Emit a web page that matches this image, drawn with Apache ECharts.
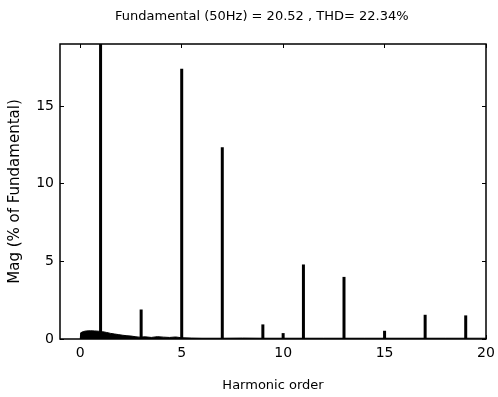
<!DOCTYPE html>
<html><head><meta charset="utf-8">
<script src="https://cdn.jsdelivr.net/npm/echarts@6/dist/echarts.min.js"></script>
<style>html,body{margin:0;padding:0;background:#fff}#c{width:498px;height:397px}</style>
</head><body><div id="c"></div>
<script>
const titleText = 'Fundamental (50Hz) = 20.52 , THD= 22.34%';
const xTicks = [0, 5, 10, 15, 20];
const yTicks = [0, 5, 10, 15];
// harmonic lines
const harmOrder = [1, 3, 5, 7, 9, 10, 11, 13, 15, 17, 19];
const harmMag   = [100, 1.9, 17.4, 12.35, 0.94, 0.38, 4.8, 4.0, 0.53, 1.56, 1.52];
// low-level background spectrum
const bgOrder = [0, 0.02, 0.15, 0.3, 0.5, 0.7, 0.9, 1.1, 1.3, 1.5, 1.7, 1.9, 2.1, 2.3, 2.5, 2.7, 2.9, 3.2, 3.5, 3.8, 4.1, 4.4, 4.7, 5.0, 5.5, 6.0, 7.0, 8.0, 9.0, 10.0, 12.0, 14.0, 16.0, 18.0, 20.0];
const bgMag   = [0, 0.4, 0.48, 0.52, 0.53, 0.52, 0.5, 0.47, 0.42, 0.36, 0.32, 0.28, 0.24, 0.21, 0.19, 0.15, 0.12, 0.14, 0.1, 0.15, 0.12, 0.1, 0.13, 0.08, 0.06, 0.05, 0.05, 0.06, 0.05, 0.05, 0.05, 0.05, 0.05, 0.05, 0.05];

const font = 'DejaVu Sans';
const chart = echarts.init(document.getElementById('c'), null, {renderer: 'canvas'});
const tick = {show: true, inside: true, length: 4, lineStyle: {color: '#000', width: 1}};
const lbl = {color: '#000', fontFamily: font, fontSize: 14};
chart.setOption({
  animation: false,
  backgroundColor: '#fff',
  title: {text: titleText, left: 110, top: 5,
    textStyle: {fontFamily: font, fontSize: 13, fontWeight: 'normal', color: '#000'}},
  grid: {left: 58, right: 12, top: 44, bottom: 57, show: true, borderColor: '#000', borderWidth: 1.5, backgroundColor: '#fff'},
  xAxis: [
    {type: 'value', min: -1, max: 20, position: 'bottom',
      axisLine: {show: false, onZero: false}, splitLine: {show: false},
      name: 'Harmonic order', nameLocation: 'middle', nameGap: 40,
      nameTextStyle: {fontFamily: font, fontSize: 13, color: '#000'},
      axisTick: Object.assign({}, tick, {customValues: xTicks}),
      axisLabel: Object.assign({}, lbl, {customValues: xTicks, margin: 7})},
    {type: 'value', min: -1, max: 20, position: 'top',
      axisLine: {show: false, onZero: false}, splitLine: {show: false},
      axisTick: Object.assign({}, tick, {customValues: xTicks}),
      axisLabel: {show: false}}
  ],
  yAxis: [
    {type: 'value', min: 0, max: 19, position: 'left',
      axisLine: {show: false, onZero: false}, splitLine: {show: false},
      name: 'Mag (% of Fundamental)', nameLocation: 'middle', nameGap: 37,
      nameTextStyle: {fontFamily: font, fontSize: 15, color: '#000'},
      axisTick: Object.assign({}, tick, {customValues: yTicks}),
      axisLabel: Object.assign({}, lbl, {customValues: yTicks, margin: 6})},
    {type: 'value', min: 0, max: 19, position: 'right',
      axisLine: {show: false, onZero: false}, splitLine: {show: false},
      axisTick: Object.assign({}, tick, {customValues: yTicks}),
      axisLabel: {show: false}}
  ],
  series: [
    {type: 'line', xAxisIndex: 0, yAxisIndex: 0, symbol: 'none', clip: true,
     data: bgOrder.map((x, i) => [x, bgMag[i]]),
     lineStyle: {color: '#000', width: 1}, areaStyle: {color: '#000', opacity: 1}},
    {type: 'bar', xAxisIndex: 0, yAxisIndex: 0, barWidth: 3, clip: true,
     data: harmOrder.map((x, i) => [x, harmMag[i]]),
     itemStyle: {color: '#000'}}
  ]
});
</script></body></html>
